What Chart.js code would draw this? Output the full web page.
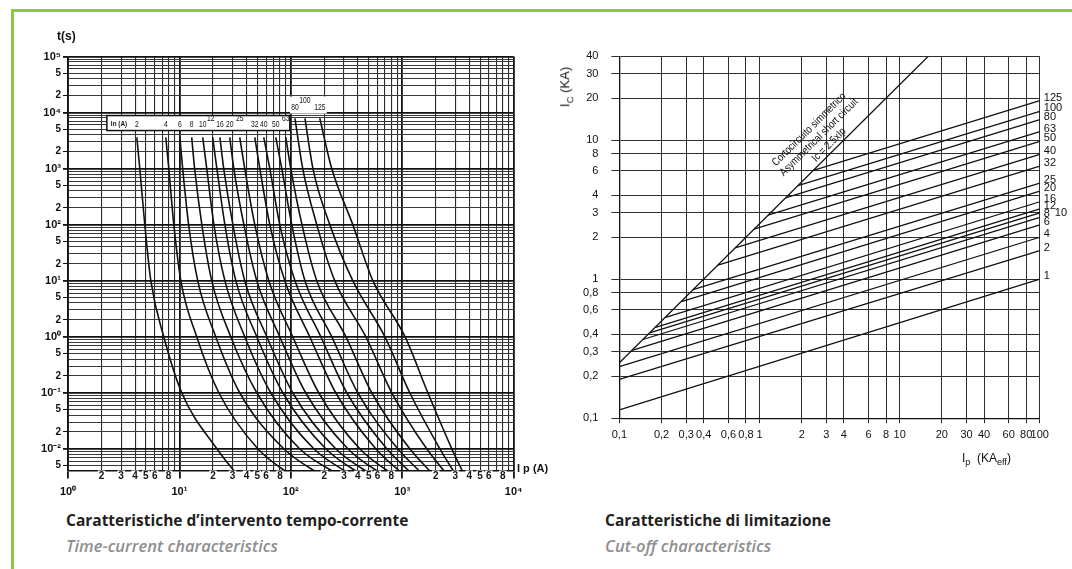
<!DOCTYPE html>
<html lang="it">
<head>
<meta charset="utf-8">
<title>Caratteristiche fusibili</title>
<script src="https://cdn.jsdelivr.net/npm/chart.js@4.4.1/dist/chart.umd.min.js"></script>
<style>
  body { margin: 0; width: 1072px; height: 569px; background: #fff; position: relative; overflow: hidden; font-family: "Open Sans", "Noto Sans", sans-serif; }
  .bar-top { position: absolute; left: 11px; top: 9px; right: 0; height: 3px; background: #8dc63f; }
  .bar-left { position: absolute; left: 11px; top: 9px; width: 3px; bottom: 0; background: #8dc63f; }
  canvas { position: absolute; }
  #tcChart { left: 0; top: 0; }
  #coChart { left: 540px; top: 0; }
  .lbl { position: absolute; font-family: "Liberation Sans", Arial, sans-serif; color: #111; white-space: nowrap; }
  .lbl sub { font-size: 0.75em; }
  .cap { position: absolute; font-size: 15.5px; line-height: 21px; font-weight: 700; color: #231f20; white-space: nowrap; }
  .cap-en { position: absolute; font-size: 16.5px; line-height: 22px; font-weight: 600; font-style: italic; color: #8e8e8e; white-space: nowrap; }
</style>
</head>
<body>
<div class="bar-top"></div>
<div class="bar-left"></div>

<canvas id="tcChart" width="540" height="505"></canvas>
<canvas id="coChart" width="532" height="470"></canvas>

<div class="lbl" style="left:57px;top:29px;font-size:12px;font-weight:bold;">t(s)</div>
<div class="lbl" style="left:517px;top:462px;font-size:11px;font-weight:bold;">I p (A)</div>
<div class="lbl" style="left:566px;top:87px;font-size:13px;transform:translate(-50%,-50%) rotate(-90deg);">I<sub>C</sub> (KA)</div>
<div class="lbl" style="left:962px;top:451px;font-size:12px;">I<sub>p</sub>&nbsp;&nbsp;(KA<sub>eff</sub>)</div>

<div class="cap" style="left:66px;top:510px;">Caratteristiche d’intervento tempo-corrente</div>
<div class="cap-en" style="left:66px;top:535px;">Time-current characteristics</div>
<div class="cap" style="left:605px;top:510px;">Caratteristiche di limitazione</div>
<div class="cap-en" style="left:605px;top:535px;">Cut-off characteristics</div>

<script>
// ---- time-current characteristics (left) ----
var tcDecadesX = [1, 10, 100, 1000, 10000];
var tcDecadesY = [0.001, 0.01, 0.1, 1, 10, 100, 1000, 10000, 100000];
var tcSteps = [1, 2, 3, 4, 5, 6, 7, 8, 9];
var tcLabelledX = [2, 3, 4, 5, 6, 8];
var tcLabelledY = [2, 5];

var tcTimes = [3600, 1000, 100, 10, 1, 0.1, 0.01, 0.003];
var tcTimesTall = [7900, 1000, 100, 10, 1, 0.1, 0.01, 0.003];
var tcRatings = [2, 4, 6, 8, 10, 12, 16, 20, 25, 32, 40, 50, 63, 80, 100, 125];
var tcRaised = [12, 25, 63];

var tcI2 = [4.15, 4.41, 4.89, 5.54, 7.24, 10.5, 21.7, 34.8];
var tcI4 = [7.55, 8.03, 8.91, 10.3, 14.3, 22.6, 50.6, 109];
var tcI6 = [10.1, 10.7, 12.1, 14.6, 21.2, 34.8, 86.5, 206];
var tcI8 = [12.9, 13.7, 15.9, 19.5, 28.9, 49.5, 120, 305];
var tcI10 = [16.2, 17.6, 20.4, 25.6, 38.6, 66.1, 161, 391];
var tcI12 = [19.9, 21.7, 25.6, 32.1, 49.5, 84.8, 206, 481];
var tcI16 = [23.1, 25.0, 30.2, 38.6, 60.9, 104, 253, 592];
var tcI20 = [28.3, 30.8, 37.9, 49.5, 79.6, 136, 325, 743];
var tcI25 = [34.8, 38.6, 47.5, 63.5, 104, 178, 416, 913];
var tcI32 = [47.5, 52.7, 64.8, 88.3, 148, 253, 579, 1120];
var tcI40 = [57.2, 64.8, 79.6, 109, 186, 318, 727, 1350];
var tcI50 = [73.3, 83.0, 102, 134, 233, 399, 913, 1660];
var tcI63 = [90.2, 100, 126, 171, 312, 533, 1170, 2040];
var tcI80 = [109, 128, 171, 248, 471, 807, 1660, 2680];
var tcI100 = [134, 158, 224, 360, 698, 1170, 2180, 3160];
var tcI125 = [182, 233, 360, 545, 1060, 1700, 2790, 3720];

var tcCurves = [tcI2, tcI4, tcI6, tcI8, tcI10, tcI12, tcI16, tcI20, tcI25,
  tcI32, tcI40, tcI50, tcI63, tcI80, tcI100, tcI125];

// ---- cut-off characteristics (right) ----
var coTicksX = [0.1, 0.2, 0.3, 0.4, 0.6, 0.8, 1, 2, 3, 4, 6, 8, 10, 20, 30, 40, 60, 80, 100];
var coTicksY = [0.1, 0.2, 0.3, 0.4, 0.6, 0.8, 1, 2, 3, 4, 6, 8, 10, 20, 30, 40];
var coRatings = [1, 2, 4, 6, 8, 10, 12, 16, 20, 25, 32, 40, 50, 63, 80, 100, 125];
var coStartIp = [0.1, 0.1, 0.1, 0.123, 0.147, 0.164, 0.181, 0.214, 0.277, 0.335, 0.505, 0.67, 0.914, 1.15, 1.53, 1.88, 2.42];
var coStartIc = [0.115, 0.19, 0.235, 0.307, 0.368, 0.41, 0.45, 0.53, 0.69, 0.84, 1.26, 1.68, 2.29, 2.88, 3.84, 4.7, 6.05];
var coEndIp = 100;
var coEndIc = [1.0, 1.6, 2.0, 2.45, 2.78, 3.0, 3.2, 3.6, 4.3, 4.9, 6.5, 7.9, 9.8, 11.5, 14, 16.1, 19.2];
var diagIp = [0.1, 16];
var diagIc = [0.25, 40];

Chart.defaults.font.family = "'Liberation Sans', Arial, sans-serif";
Chart.defaults.color = "#111";

var SUP = { "-": "⁻", "0": "⁰", "1": "¹", "2": "²", "3": "³", "4": "⁴", "5": "⁵", "6": "⁶", "7": "⁷", "8": "⁸", "9": "⁹" };
function sup(n) {
  return String(n).split("").map(function (c) { return SUP[c]; }).join("");
}
function logParts(v) {
  var e = Math.floor(Math.log10(v) + 1e-9);
  return { e: e, m: Math.round(v / Math.pow(10, e)) };
}
function buildTicks(decades, steps, min, max) {
  var out = [];
  decades.forEach(function (d) {
    steps.forEach(function (s) {
      var v = d * s;
      if (v >= min * 0.999 && v <= max * 1.001) out.push({ value: v });
    });
  });
  return out;
}
// narrow text: the scanned original uses a condensed face
function narrowText(ctx, text, px, py, sx) {
  ctx.save();
  ctx.translate(px, py);
  ctx.scale(sx, 1);
  ctx.fillText(text, 0, 0);
  ctx.restore();
}

// left chart
var tcMin = 0.0041, tcMax = 100000;

var tcLabelPlugin = {
  id: "tcLabels",
  afterDraw: function (chart) {
    var ctx = chart.ctx, x = chart.scales.x, y = chart.scales.y;
    ctx.save();
    var left = x.getPixelForValue(tcI2[0]) - 30;
    var right = x.getPixelForValue(tcI63[0]) + 4;
    var top = y.getPixelForValue(10000) + 3;
    ctx.fillStyle = "#fff";
    ctx.fillRect(left, top, right - left, 15);
    ctx.strokeStyle = "#111";
    ctx.lineWidth = 1.5;
    ctx.strokeRect(left, top, right - left, 15);

    ctx.fillStyle = "#111";
    ctx.textBaseline = "middle";
    ctx.textAlign = "left";
    ctx.font = "bold 8px 'Liberation Sans', Arial";
    narrowText(ctx, "In (A)", left + 4, top + 8, 0.8);

    // white patch behind the 80 / 100 / 125 labels
    var px80 = x.getPixelForValue(tcI80[0]);
    var px125 = x.getPixelForValue(tcI125[0]);
    ctx.fillStyle = "#fff";
    ctx.fillRect(px80 - 5, top - 19, px125 - px80 + 12, 17);
    ctx.fillStyle = "#111";

    ctx.textAlign = "center";
    ctx.font = "9px 'Liberation Sans', Arial";
    tcRatings.forEach(function (r, i) {
      var px = x.getPixelForValue(tcCurves[i][0]);
      var py;
      if (r >= 80) {
        py = r === 100 ? top - 15 : top - 8;
      } else {
        py = tcRaised.indexOf(r) >= 0 ? top + 3 : top + 9;
      }
      narrowText(ctx, String(r), r === 12 ? px - 2 : px, py, 0.75);
    });
    ctx.restore();
  }
};

var tcDatasets = tcCurves.map(function (cur, i) {
  var times = tcRatings[i] >= 80 ? tcTimesTall : tcTimes;
  return {
    label: tcRatings[i] + " A",
    data: cur.map(function (v, k) { return { x: v, y: times[k] }; }),
    borderColor: "#111",
    borderWidth: 1.6,
    pointRadius: 0,
    fill: false,
    cubicInterpolationMode: "monotone"
  };
});

function tcIsDecade(v) {
  return v !== undefined && logParts(v).m === 1;
}

new Chart(document.getElementById("tcChart"), {
  type: "line",
  data: { datasets: tcDatasets },
  options: {
    responsive: false,
    animation: false,
    devicePixelRatio: 1,
    layout: { padding: { top: 56.5, right: 26.4, left: 0, bottom: 0 } },
    plugins: { legend: { display: false }, tooltip: { enabled: false } },
    scales: {
      x: {
        type: "logarithmic",
        min: 1,
        max: 10000,
        afterBuildTicks: function (s) { s.ticks = buildTicks(tcDecadesX, tcSteps, 1, 10000); },
        afterFit: function (s) { s.height = 34.5; },
        border: { display: true, color: "#111", width: 1.6 },
        grid: {
          color: function (c) { return tcIsDecade(c.tick && c.tick.value) ? "#111" : "#2b2b2b"; },
          lineWidth: function (c) { return tcIsDecade(c.tick && c.tick.value) ? 1.8 : 1.1; },
          tickLength: 8,
          tickColor: function (c) {
            var p = logParts(c.tick.value);
            return (p.m === 1 || tcLabelledX.indexOf(p.m) >= 0) ? "#111" : "rgba(0,0,0,0)";
          }
        },
        ticks: {
          autoSkip: false,
          maxRotation: 0,
          padding: -10,
          font: function (c) {
            var dec = logParts(c.tick.value).m === 1;
            return { size: dec ? 11 : 10, weight: "bold", lineHeight: 1.45 };
          },
          showLabelBackdrop: function (c) {
            var p = logParts(c.tick.value);
            return p.m !== 1 && tcLabelledX.indexOf(p.m) >= 0;
          },
          backdropColor: "#fff",
          backdropPadding: { top: 0, bottom: 0, left: 1, right: 1 },
          callback: function (v) {
            var p = logParts(v);
            if (p.m === 1) return ["", "10" + sup(p.e)];
            return tcLabelledX.indexOf(p.m) >= 0 ? String(p.m) : "";
          }
        }
      },
      y: {
        type: "logarithmic",
        min: tcMin,
        max: tcMax,
        afterBuildTicks: function (s) { s.ticks = buildTicks(tcDecadesY, tcSteps, tcMin, tcMax); },
        afterFit: function (s) { s.width = 68; },
        border: { display: true, color: "#111", width: 1.6 },
        grid: {
          color: function (c) { return tcIsDecade(c.tick && c.tick.value) ? "#111" : "#3a3a3a"; },
          lineWidth: function (c) { return tcIsDecade(c.tick && c.tick.value) ? 1.8 : 1; },
          tickLength: 5,
          tickColor: function (c) {
            var p = logParts(c.tick.value);
            return (p.m === 1 || tcLabelledY.indexOf(p.m) >= 0) ? "#111" : "rgba(0,0,0,0)";
          }
        },
        ticks: {
          autoSkip: false,
          padding: 2,
          font: function (c) {
            var p = logParts(c.tick.value);
            return { size: p.m === 1 ? 11 : 10, weight: "bold" };
          },
          callback: function (v) {
            var p = logParts(v);
            if (p.m === 1) return "10" + sup(p.e);
            return tcLabelledY.indexOf(p.m) >= 0 ? String(p.m) : "";
          }
        }
      }
    }
  },
  plugins: [tcLabelPlugin]
});

// right chart
function coLabel(v) {
  var p = logParts(v);
  return p.e < 0 ? "0," + p.m : String(Math.round(v));
}

var coLabelPlugin = {
  id: "coLabels",
  afterDraw: function (chart) {
    var ctx = chart.ctx, x = chart.scales.x, y = chart.scales.y, area = chart.chartArea;
    ctx.save();
    ctx.fillStyle = "#111";
    ctx.font = "11px 'Liberation Sans', Arial";
    ctx.textAlign = "left";
    ctx.textBaseline = "middle";
    coRatings.forEach(function (r, i) {
      var py = y.getPixelForValue(coEndIc[i]);
      if (r === 10) {
        ctx.fillText("10", area.right + 15, py);
      } else {
        ctx.fillText(String(r), area.right + 4, py - 3);
      }
    });

    // text along the short circuit line
    var x0 = x.getPixelForValue(diagIp[0]), y0 = y.getPixelForValue(diagIc[0]);
    var x1 = x.getPixelForValue(diagIp[1]), y1 = y.getPixelForValue(diagIc[1]);
    var ang = Math.atan2(y1 - y0, x1 - x0);
    var ax = x.getPixelForValue(3.4), ay = y.getPixelForValue(8.5);
    ctx.translate(ax, ay);
    ctx.rotate(ang);
    ctx.scale(0.84, 1);
    ctx.textAlign = "center";
    ctx.textBaseline = "middle";
    ctx.font = "11px 'Liberation Sans', Arial";
    ctx.fillText("Cortocircuito simmetrico", -4, -32);
    ctx.fillText("Asymmetrical short circuit", -2, -19.5);
    ctx.fillText("Ic = 2.5xIp", 0, -7);
    ctx.restore();
  }
};

var coDatasets = coRatings.map(function (r, i) {
  return {
    label: r + " A",
    data: [{ x: coStartIp[i], y: coStartIc[i] }, { x: coEndIp, y: coEndIc[i] }],
    borderColor: "#111",
    borderWidth: 1.3,
    pointRadius: 0,
    fill: false
  };
});
coDatasets.push({
  label: "Ic = 2.5 x Ip",
  data: diagIp.map(function (v, k) { return { x: v, y: diagIc[k] }; }),
  borderColor: "#111",
  borderWidth: 1.3,
  pointRadius: 0,
  fill: false
});

new Chart(document.getElementById("coChart"), {
  type: "line",
  data: { datasets: coDatasets },
  options: {
    responsive: false,
    animation: false,
    devicePixelRatio: 1,
    layout: { padding: { top: 56.3, right: 32.2, left: 0, bottom: 0 } },
    plugins: { legend: { display: false }, tooltip: { enabled: false } },
    scales: {
      x: {
        type: "logarithmic",
        min: 0.1,
        max: 100,
        afterBuildTicks: function (s) { s.ticks = coTicksX.map(function (v) { return { value: v }; }); },
        afterFit: function (s) { s.height = 51.8; },
        border: { display: true, color: "#111", width: 1.3 },
        grid: { color: "#2e2e2e", lineWidth: 1, tickLength: 5 },
        ticks: {
          autoSkip: false,
          maxRotation: 0,
          padding: 5,
          font: { size: 11 },
          callback: function (v) { return coLabel(v); }
        }
      },
      y: {
        type: "logarithmic",
        min: 0.1,
        max: 40,
        afterBuildTicks: function (s) { s.ticks = coTicksY.map(function (v) { return { value: v }; }); },
        afterFit: function (s) { s.width = 79.4; },
        border: { display: true, color: "#111", width: 1.3 },
        grid: { color: "#2e2e2e", lineWidth: 1, tickLength: 8 },
        ticks: {
          autoSkip: false,
          padding: 13,
          font: { size: 11 },
          callback: function (v) { return coLabel(v); }
        }
      }
    }
  },
  plugins: [coLabelPlugin]
});
</script>
</body>
</html>
